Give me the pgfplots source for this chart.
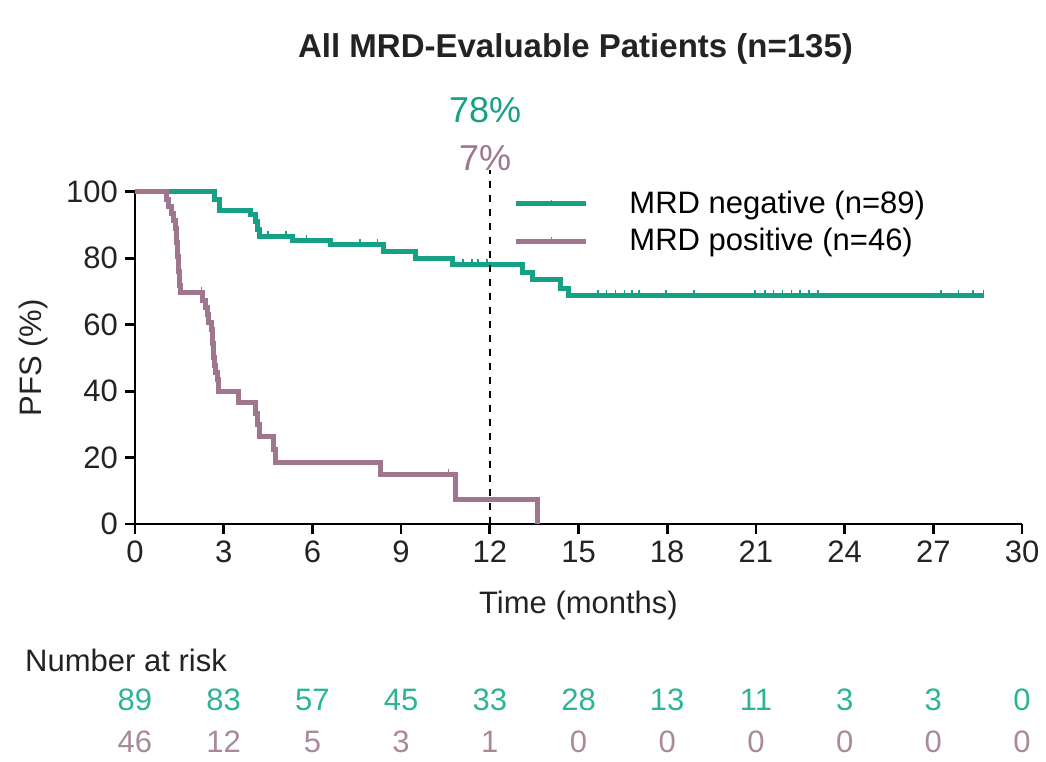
\documentclass[border=0pt]{standalone}
\usepackage{pgfplots}
\pgfplotsset{compat=1.18}
\usepackage{fontspec}
\setmainfont{Liberation Sans}
\definecolor{mrdneg}{RGB}{22,160,133}
\definecolor{mrdpos}{RGB}{158,118,142}
\definecolor{negtxt}{RGB}{45,180,150}
\definecolor{postxt}{RGB}{168,138,155}
\definecolor{axgray}{RGB}{35,35,35}
\begin{document}
\begin{tikzpicture}[font=\fontsize{15.5}{18}\selectfont]
\begin{axis}[
  scale only axis, width=443.5pt, height=166pt,
  xmin=0, xmax=30, ymin=0, ymax=100,
  axis x line*=bottom, axis y line*=left,
  axis line style={line width=1.4pt, black},
  xtick={0,3,...,30}, ytick={0,20,...,100},
  tick align=outside, major tick length=5pt,
  every tick/.style={line width=1.4pt, black},
  /pgf/number format/assume math mode=true,
  ticklabel style={font=\fontsize{15.5}{18}\selectfont, text=axgray},
  xlabel={Time (months)}, ylabel={PFS (\%)},
  xlabel style={at={(rel axis cs:0.5,-0.247)}, anchor=center, text=axgray},
  ylabel style={at={(rel axis cs:-0.114,0.5)}, anchor=center, text=axgray},
  clip=false,
  legend style={draw=none, fill=none, at={(axis cs:12.6,102.8)}, anchor=north west,
    font=\fontsize{15.5}{18}\selectfont, row sep=2pt},
  legend cell align=left,
  legend image code/.code={
    \draw[#1] (0pt,0pt) -- (35pt,0pt);
    \draw[#1, line width=0.8pt] (17.5pt,0pt) -- (17.5pt,2pt);
    \path[draw=none, fill=none] (0pt,0pt) -- (54.5pt,0pt);
  },
]
% MRD negative
\addplot[mrdneg, line width=2.5pt, const plot, mark=none] coordinates {
(0,100) (2.68,97.8) (2.85,94.4) (3.89,93.3) (4.07,91.0) (4.13,88.8) (4.2,86.5)
(5.34,85.4) (6.6,84.1) (8.4,82.0) (9.5,79.8) (10.75,78.0) (13.1,75.6)
(13.45,73.5) (14.4,71.0) (14.65,68.7) (28.7,68.7)};
\addlegendentry{MRD negative (n=89)}
% MRD positive
\addplot[mrdpos, line width=2.5pt, const plot, mark=none] coordinates {
(0,100) (1.07,97.8) (1.15,95.6) (1.22,93.5) (1.3,91.3) (1.36,89.1) (1.4,84.8)
(1.44,80.4) (1.48,76.1) (1.52,71.7) (1.55,69.6) (2.3,67.4) (2.38,65.2)
(2.45,63.0) (2.5,60.8) (2.58,58.7) (2.62,54.3) (2.66,50.0) (2.7,47.8)
(2.74,45.6) (2.78,43.4) (2.82,40.0) (3.5,36.6) (4.07,33.4) (4.14,30.0)
(4.2,26.3) (4.68,22.3) (4.74,18.4) (8.3,14.9) (10.83,7.4) (13.6,0)};
\addlegendentry{MRD positive (n=46)}
% censor marks
\addplot[mrdneg, only marks, mark=|, mark size=1.6pt, line width=0.8pt, forget plot] coordinates {
(4.5,87.2) (5.1,87.2) (5.8,86.1) (7.6,84.8) (8.2,84.8) (11.1,78.7) (11.4,78.7)
(11.6,78.7) (11.9,78.7) (15.66,69.4) (15.95,69.4) (16.25,69.4) (16.55,69.4)
(16.8,69.4) (17.05,69.4) (17.95,69.4) (18.9,69.4) (20.97,69.4) (21.3,69.4)
(21.6,69.4) (21.9,69.4) (22.2,69.4) (22.5,69.4) (22.8,69.4) (23.1,69.4)
(27.25,69.4) (27.85,69.4) (28.35,69.4) (28.7,69.4)};
\addplot[mrdpos, only marks, mark=|, mark size=1.6pt, line width=0.8pt, forget plot] coordinates {
(2.25,70.3) (10.6,15.6)};
% 12-month reference
\draw[black, line width=1.3pt, dash pattern=on 3.5pt off 3.5pt] (axis cs:12,0) -- (axis cs:12,106.6);
\node[text=mrdneg, font=\fontsize{18}{21}\selectfont] at (axis cs:11.84,124.7) {78\%};
\node[text=mrdpos, font=\fontsize{18}{21}\selectfont] at (axis cs:11.84,110.2) {7\%};
% title
\node[font=\bfseries\fontsize{16.5}{19}\selectfont, text=axgray] at (axis cs:14.9,143.0) {All MRD-Evaluable Patients (n=135)};
% number at risk
\node[anchor=west, text=axgray] at (axis cs:-3.95,-41) {Number at risk};
\node[text=negtxt] at (axis cs:0,-53) {89};
\node[text=negtxt] at (axis cs:3,-53) {83};
\node[text=negtxt] at (axis cs:6,-53) {57};
\node[text=negtxt] at (axis cs:9,-53) {45};
\node[text=negtxt] at (axis cs:12,-53) {33};
\node[text=negtxt] at (axis cs:15,-53) {28};
\node[text=negtxt] at (axis cs:18,-53) {13};
\node[text=negtxt] at (axis cs:21,-53) {11};
\node[text=negtxt] at (axis cs:24,-53) {3};
\node[text=negtxt] at (axis cs:27,-53) {3};
\node[text=negtxt] at (axis cs:30,-53) {0};
\node[text=postxt] at (axis cs:0,-65.7) {46};
\node[text=postxt] at (axis cs:3,-65.7) {12};
\node[text=postxt] at (axis cs:6,-65.7) {5};
\node[text=postxt] at (axis cs:9,-65.7) {3};
\node[text=postxt] at (axis cs:12,-65.7) {1};
\node[text=postxt] at (axis cs:15,-65.7) {0};
\node[text=postxt] at (axis cs:18,-65.7) {0};
\node[text=postxt] at (axis cs:21,-65.7) {0};
\node[text=postxt] at (axis cs:24,-65.7) {0};
\node[text=postxt] at (axis cs:27,-65.7) {0};
\node[text=postxt] at (axis cs:30,-65.7) {0};
% picture extent
\path (axis cs:-4.565,-71.7) rectangle (axis cs:30.81,157.8);
\end{axis}
\end{tikzpicture}
\end{document}
